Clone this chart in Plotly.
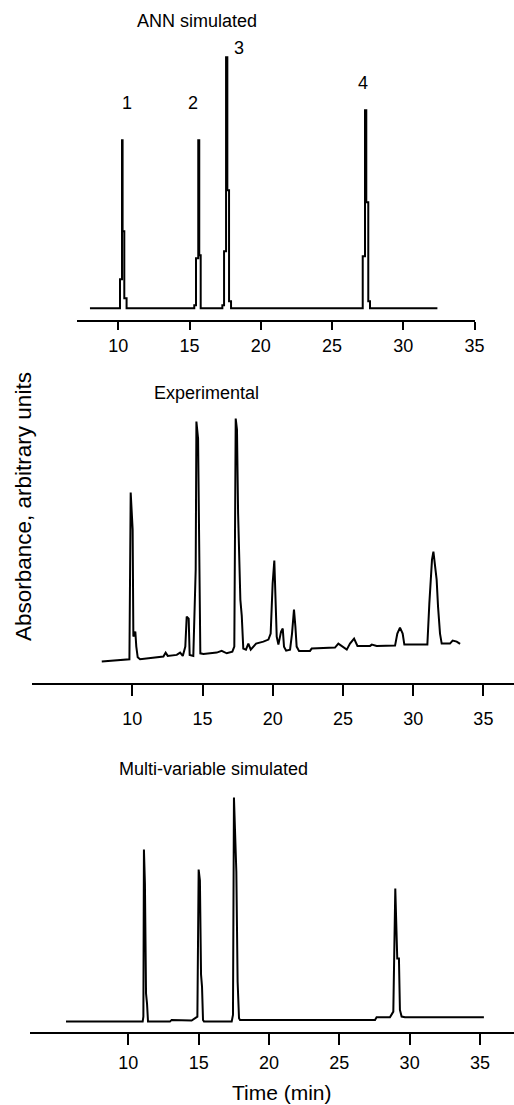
import plotly.graph_objects as go

W, H = 514, 1105

# ---------------- data ----------------
# ANN simulated (step-like trace, arbitrary units)
ann_time = [8.01, 10.12, 10.26, 10.30, 10.42, 10.58, 15.33, 15.45, 15.61, 15.68, 15.78,
            17.30, 17.42, 17.56, 17.65, 17.77, 17.91, 27.15, 27.31, 27.40, 27.54, 27.66, 32.39]
ann_signal = [0, 29, 168, 77, 10, 0, 3, 50, 168, 53, 0,
              3, 57, 251, 118, 7, 0, 52, 198, 106, 7, 0, 0]
ann_peak_labels = ["1", "2", "3", "4"]

# Experimental chromatogram
exp_time = [7.82, 8.99, 9.48, 9.79, 9.88, 9.95, 10.02, 10.07, 10.14, 10.21, 10.28, 10.38, 10.55,
            11.26, 12.21, 12.37, 12.52, 13.16, 13.40, 13.59, 13.77, 13.87, 14.01, 14.08, 14.34,
            14.51, 14.56, 14.68, 14.75, 14.80, 14.84, 15.06, 16.01, 16.36, 16.72, 17.12,
            17.26, 17.36, 17.45, 17.53, 17.62, 17.69, 17.79, 17.90, 18.09, 18.26, 18.43, 18.62,
            18.81, 19.33, 19.69, 19.85, 19.99, 20.11, 20.21, 20.28, 20.40, 20.59, 20.71, 20.80,
            20.95, 21.23, 21.37, 21.51, 21.61, 21.70, 21.87, 22.65, 22.77, 24.43, 24.67, 24.91,
            25.27, 25.50, 25.79, 26.03, 26.93, 27.05, 27.40, 28.71, 28.87, 29.06, 29.25, 29.37,
            31.01, 31.15, 31.34, 31.44, 31.56, 31.67, 31.77, 31.91, 32.03, 32.62, 32.81, 33.10, 33.34]
exp_signal = [0, 1, 1.7, 2.3, 169, 152, 132, 25, 28, 30, 15, 4.3, 2.3,
              3.3, 5, 9, 5.7, 6.7, 9, 5.7, 15, 45, 43, 6.7, 5.7,
              92, 240, 223, 92, 68, 8.3, 7.7, 9, 10.7, 8.3, 10,
              15, 243, 232, 148, 92, 62, 46, 13, 12, 18, 12, 15,
              18, 20, 22, 28, 78, 101, 62, 25, 17, 30, 33, 15,
              11, 12, 28, 52, 35, 15, 10.7, 10.7, 13, 14, 18, 15.7,
              12, 18, 23, 15.7, 15.7, 17, 15.7, 16, 28, 34, 28, 17,
              17, 58, 102, 110, 98, 82, 55, 28, 18, 18, 21, 20, 17.7]

# Multi-variable simulated
mv_time = [5.57, 11.02, 11.07, 11.11, 11.18, 11.26, 11.33, 11.40, 12.96, 13.08, 14.50,
           14.91, 15.00, 15.09, 15.17, 15.24, 15.31, 15.38, 17.35, 17.44, 17.51, 17.68, 17.77,
           17.87, 17.94, 27.54, 27.65, 28.60, 28.84, 28.98, 29.12, 29.24, 29.31, 29.43, 29.67, 35.28]
mv_signal = [0, 0, 5, 172, 138, 28, 18, 0, 0, 1.7, 1,
             5, 152, 141, 47, 35, 1.7, 0, 0, 6.7, 224, 150, 40,
             3.3, 1.7, 1.7, 4.3, 4.3, 10, 133, 63, 63, 11.7, 5, 4.3, 4.3]

tick_vals = [10, 15, 20, 25, 30, 35]
tick_text = ["10", "15", "20", "25", "30", "35"]

panel_titles = ["ANN simulated", "Experimental", "Multi-variable simulated"]
y_title = "Absorbance, arbitrary units"
x_title = "Time (min)"

# ---------------- figure ----------------
FONT = "Liberation Sans, Arial, Helvetica, sans-serif"

def px_x(p):
    return p / W

def px_y(p):
    return 1 - p / H

fig = go.Figure()
fig.add_trace(go.Scatter(x=ann_time, y=ann_signal, mode="lines", line=dict(color="black", width=2, shape="hv"),
                         xaxis="x", yaxis="y", showlegend=False, hoverinfo="skip"))
fig.add_trace(go.Scatter(x=exp_time, y=exp_signal, mode="lines", line=dict(color="black", width=2),
                         xaxis="x2", yaxis="y2", showlegend=False, hoverinfo="skip"))
fig.add_trace(go.Scatter(x=mv_time, y=mv_signal, mode="lines", line=dict(color="black", width=2),
                         xaxis="x3", yaxis="y3", showlegend=False, hoverinfo="skip"))

def xax(domain_px, rng, anchor, ticklen, standoff):
    return dict(domain=[px_x(domain_px[0]), px_x(domain_px[1])], range=rng, anchor=anchor,
                showgrid=False, zeroline=False, showline=True, linecolor="black", linewidth=2,
                ticks="outside", ticklen=ticklen, tickwidth=2, tickcolor="black",
                tickvals=tick_vals, ticktext=tick_text, ticklabelstandoff=standoff,
                tickfont=dict(family=FONT, size=18, color="black"), fixedrange=True)

def yax(top_px, bottom_px, rng, anchor):
    return dict(domain=[px_y(bottom_px), px_y(top_px)], range=rng, anchor=anchor, visible=False,
                showgrid=False, zeroline=False, fixedrange=True)

annotations = []
def txt(s, x, y, size=18, angle=0):
    annotations.append(dict(text=s, x=px_x(x), y=px_y(y), xref="paper", yref="paper",
                            xanchor="center", yanchor="middle", showarrow=False, textangle=angle,
                            font=dict(family=FONT, size=size, color="black")))

txt(panel_titles[0], 197, 21)
txt(panel_titles[1], 206, 393)
txt(panel_titles[2], 213, 769)
for lab, (x, y) in zip(ann_peak_labels, [(127, 103), (193, 103), (239, 48), (363, 83)]):
    txt(lab, x, y)
txt(y_title, 24, 507, size=22.5, angle=-90)
txt(x_title, 282, 1092, size=21)

fig.update_layout(
    width=W, height=H, margin=dict(l=0, r=0, t=0, b=0),
    paper_bgcolor="white", plot_bgcolor="white", template="none",
    xaxis=xax((76.7, 474.6), [7.08, 35.0], "y", 8, 0),
    yaxis=yax(40, 320, [-11.7, 268.3], "x"),
    xaxis2=xax((31.7, 514), [2.83, 37.18], "y2", 11, 7),
    yaxis2=yax(400, 683.3, [-21.7, 261.6], "x2"),
    xaxis3=xax((30, 514), [3.01, 37.42], "y3", 11, 2),
    yaxis3=yax(780, 1032.3, [-10.7, 241.6], "x3"),
    annotations=annotations,
)

fig.write_html("out.html", config={"displayModeBar": False},
               post_script="document.body.style.margin='0';document.body.style.overflow='hidden';")
